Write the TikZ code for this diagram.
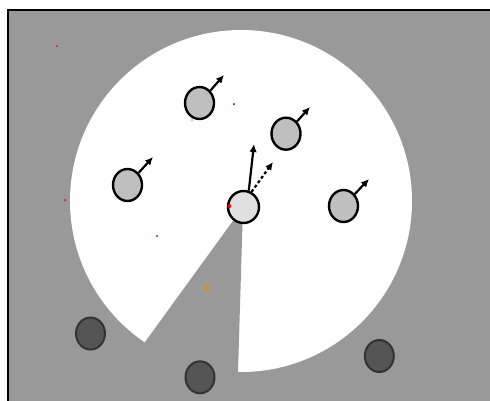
\documentclass[tikz,border=0pt]{standalone}
\usetikzlibrary{shapes.geometric,arrows.meta}
\definecolor{bggray}{HTML}{999999}
\definecolor{agentfill}{HTML}{C0BFC0}
\definecolor{centerfill}{HTML}{E0E0E0}
\definecolor{darkfill}{HTML}{555555}
\definecolor{darkline}{HTML}{333333}
\tikzset{
  agent/.style={ellipse, draw=black, line width=2.4pt, fill=agentfill, minimum width=29pt, minimum height=32pt, inner sep=0pt},
  centeragent/.style={agent, fill=centerfill, minimum width=31pt},
  darkagent/.style={ellipse, draw=darkline, line width=2pt, fill=darkfill, minimum width=29pt, minimum height=32pt, inner sep=0pt},
  heading/.style={line width=2.2pt, -{Latex[length=8pt,width=7.5pt]}},
  dashheading/.style={heading, dash pattern=on 3pt off 2.5pt},
  speck/.style={circle, inner sep=0pt, minimum size=#1},
}
\begin{document}
\begin{tikzpicture}[x=1pt,y=-1pt]
\useasboundingbox (0,0) rectangle (490,400);
\begin{scope}
\clip (0,0) rectangle (490,400);
\fill[white] (0,0) rectangle (490,400);
\draw[line width=2pt, fill=bggray] (8,10) rectangle (520,430);
% pie
\fill[white] (241,201) circle (171);
\fill[bggray] (243,207) -- (96,409.5) -- (235.5,454.5) -- cycle;
\end{scope}
% specks
\node[speck=2.5pt, fill=magenta!80!black] (s1) at (57,46) {};
\node[speck=3pt, fill=magenta!80!black] (s2) at (65,200) {};
\node[speck=2.5pt, fill=magenta!80!black] (s3) at (157,236) {};
\node[speck=2.5pt, fill=green!50!black] (s4) at (234,104) {};
\node[speck=3.5pt, fill=pink] (s5) at (192,120) {};
\node[speck=4.5pt, fill=orange] (s6) at (207,288) {};
% dark agents
\node[darkagent] (d1) at (90.5,333.5) {};
\node[darkagent] (d2) at (200,377.3) {};
\node[darkagent] (d3) at (379.3,356) {};
% agents
\node[agent] (a1) at (199.5,103) {};
\node[agent] (a2) at (286,133.7) {};
\node[agent] (a3) at (127.5,185) {};
\node[agent] (a4) at (343.5,206) {};
\node[centeragent] (c) at (243.5,207) {};
\node[speck=4pt, fill=red] (s7) at (229.5,206) {};
% headings
\coordinate (t1) at (224,75);
\coordinate (t2) at (310,107);
\coordinate (t3) at (153,157);
\coordinate (t4) at (369,179);
\coordinate (tc) at (254,144);
\coordinate (td) at (273,162);
\draw[heading] (a1) -- (t1);
\draw[heading] (a2) -- (t2);
\draw[heading] (a3) -- (t3);
\draw[heading] (a4) -- (t4);
\draw[heading] (c.72) -- (tc);
\draw[dashheading] (c.62) -- (td);
\end{tikzpicture}
\end{document}
